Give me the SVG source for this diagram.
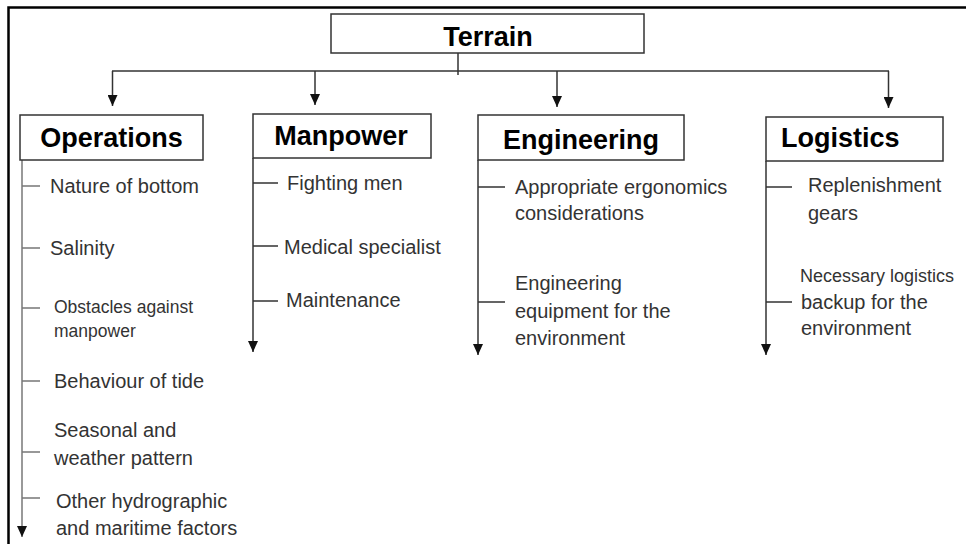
<svg xmlns="http://www.w3.org/2000/svg" width="966" height="544" viewBox="0 0 966 544">
<style>
.frame{fill:none;stroke:#000;stroke-width:2.5}
.box{fill:#fff;stroke:#333;stroke-width:1.5}
.hdr{font-family:"Liberation Sans",Arial,sans-serif;font-weight:bold;font-size:27px;fill:#000}
.item{font-family:"Liberation Sans",Arial,sans-serif;font-size:20px;fill:#333}
.small{font-size:17.5px}
.ln{fill:none;stroke:#333;stroke-width:1.5}
.gl{fill:none;stroke:#777;stroke-width:1.5}
</style>
<defs>
<marker id="ah" markerUnits="userSpaceOnUse" markerWidth="11" markerHeight="10" refX="11" refY="5" orient="auto">
<path d="M0,0 L11,5 L0,10 z" fill="#111"/>
</marker>
</defs>
<rect width="966" height="544" fill="#fff"/>
<path class="frame" d="M8.5,544 V7.5 H966"/>

<g id="connectors">
<path class="ln" d="M458,53 V75"/>
<path class="ln" d="M112,71 H889"/>
<path class="ln" d="M112.5,71 V106" marker-end="url(#ah)"/>
<path class="ln" d="M315,71 V105" marker-end="url(#ah)"/>
<path class="ln" d="M557,71 V107" marker-end="url(#ah)"/>
<path class="ln" d="M888.5,71 V108" marker-end="url(#ah)"/>
<!-- Operations subtree -->
<path class="gl" d="M22,160 V537" marker-end="url(#ah)"/>
<path class="gl" d="M22,186 H40 M22,248 H40 M22,308 H40 M22,381 H40 M22,452 H40 M22,498 H40"/>
<!-- Manpower subtree -->
<path class="ln" d="M253,158 V352" marker-end="url(#ah)"/>
<path class="ln" d="M253,183 H278 M253,246 H278 M253,301 H278"/>
<!-- Engineering subtree -->
<path class="ln" d="M478,160 V355" marker-end="url(#ah)"/>
<path class="ln" d="M478,187 H505 M478,302 H505"/>
<!-- Logistics subtree -->
<path class="ln" d="M766,161 V355" marker-end="url(#ah)"/>
<path class="ln" d="M766,187 H792 M766,302 H792"/>
</g>

<g id="node-terrain">
<rect class="box" x="331" y="14" width="313" height="39"/>
<text class="hdr" x="488" y="46" text-anchor="middle">Terrain</text>
</g>

<g id="node-operations">
<rect class="box" x="20" y="115" width="183" height="45"/>
<text class="hdr" x="111.5" y="147" text-anchor="middle">Operations</text>
</g>
<g id="node-manpower">
<rect class="box" x="253" y="114" width="178" height="44"/>
<text class="hdr" x="341" y="145" text-anchor="middle">Manpower</text>
</g>
<g id="node-engineering">
<rect class="box" x="478" y="115" width="206" height="45"/>
<text class="hdr" x="581" y="149" text-anchor="middle">Engineering</text>
</g>
<g id="node-logistics">
<rect class="box" x="766" y="117" width="177" height="44"/>
<text class="hdr" x="781" y="147">Logistics</text>
</g>

<g id="items-operations">
<text class="item" x="50" y="193">Nature of bottom</text>
<text class="item" x="50" y="255">Salinity</text>
<text class="item small" x="54" y="313">Obstacles against</text>
<text class="item small" x="54" y="337">manpower</text>
<text class="item" x="54" y="388">Behaviour of tide</text>
<text class="item" x="54" y="437">Seasonal and</text>
<text class="item" x="54" y="465">weather pattern</text>
<text class="item" x="56" y="508">Other hydrographic</text>
<text class="item" x="56" y="535">and maritime factors</text>
</g>

<g id="items-manpower">
<text class="item" x="287" y="190">Fighting men</text>
<text class="item" x="284" y="254">Medical specialist</text>
<text class="item" x="286" y="307">Maintenance</text>
</g>

<g id="items-engineering">
<text class="item" x="515" y="194">Appropriate ergonomics</text>
<text class="item" x="515" y="220">considerations</text>
<text class="item" x="515" y="290">Engineering</text>
<text class="item" x="515" y="318">equipment for the</text>
<text class="item" x="515" y="345">environment</text>
</g>

<g id="items-logistics">
<text class="item" x="808" y="192">Replenishment</text>
<text class="item" x="808" y="220">gears</text>
<text class="item" x="800" y="282" style="font-size:18px">Necessary logistics</text>
<text class="item" x="801" y="309">backup for the</text>
<text class="item" x="801" y="335">environment</text>
</g>
</svg>
